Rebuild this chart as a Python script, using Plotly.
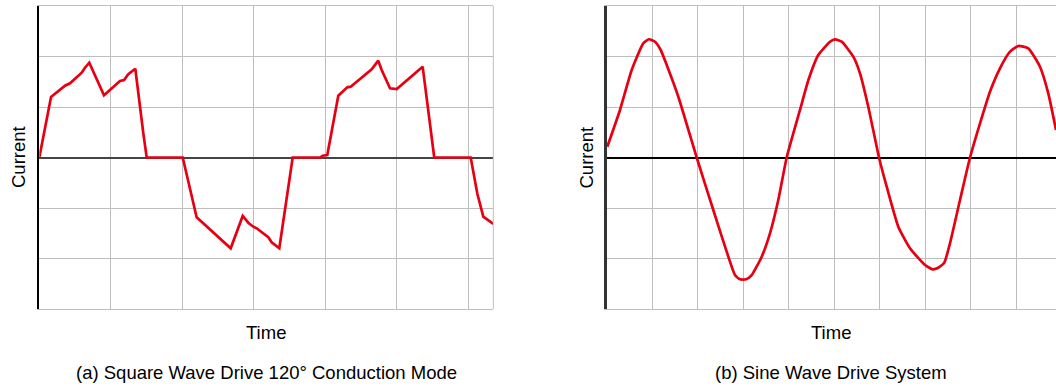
import plotly.graph_objects as go
from plotly.subplots import make_subplots

# ---- data (grid units: 1 unit = one grid cell) ----
square_t = [0.0, 0.164, 0.36, 0.43, 0.593, 0.639, 0.699, 0.905, 1.129, 1.185, 1.245, 1.343,
            1.455, 1.502, 2.006, 2.201, 2.677, 2.845, 2.923, 2.993, 3.04, 3.203, 3.25, 3.357,
            3.544, 3.926, 3.964, 4.028, 4.182, 4.308, 4.355, 4.649, 4.741, 4.789, 4.905, 4.999,
            5.362, 5.524, 6.034, 6.126, 6.21, 6.35]
square_i = [0.0, 1.198, 1.422, 1.469, 1.679, 1.778, 1.877, 1.232, 1.515, 1.535, 1.648, 1.758,
            0.479, 0.0, 0.0, -1.184, -1.798, -1.158, -1.291, -1.37, -1.402, -1.58, -1.679, -1.798,
            0.0, 0.0, 0.036, 0.05, 1.224, 1.39, 1.402, 1.747, 1.917, 1.733, 1.37, 1.356,
            1.798, 0.0, 0.0, -0.713, -1.172, -1.317]

sine_t = [0.013, 0.292, 0.549, 0.804, 0.93, 1.062, 1.187, 1.319, 1.574, 1.978, 2.343, 2.637,
          2.82, 2.93, 3.062, 3.187, 3.407, 3.589, 3.771, 3.956, 4.248, 4.433, 4.651, 4.908,
          5.018, 5.165, 5.42, 5.567, 5.749, 5.985, 6.154, 6.409, 6.666, 6.996, 7.165, 7.288,
          7.42, 7.545, 7.765, 7.985, 8.205, 8.424, 8.644, 8.864, 9.046, 9.266, 9.523, 9.705, 9.875]
sine_i = [0.214, 0.941, 1.733, 2.261, 2.341, 2.293, 2.129, 1.832, 1.204, 0.0, -1.04, -1.865,
          -2.327, -2.412, -2.412, -2.327, -1.964, -1.501, -0.842, 0.0, 0.941, 1.535, 2.03, 2.293,
          2.341, 2.293, 1.996, 1.667, 1.006, 0.0, -0.578, -1.37, -1.798, -2.129, -2.214, -2.182,
          -2.083, -1.699, -0.842, 0.0, 0.677, 1.303, 1.766, 2.095, 2.208, 2.162, 1.798, 1.271, 0.545]

x_label = "Time"
y_label = "Current"
captions = ["(a) Square Wave Drive 120° Conduction Mode", "(b) Sine Wave Drive System"]

RED = "#e60012"
GRID = "#bebebe"
FONT = "Liberation Sans, Arial, sans-serif"
FS = 18.5

fig = make_subplots(rows=1, cols=2)
fig.add_trace(go.Scatter(x=square_t, y=square_i, mode="lines",
                         line=dict(color=RED, width=2.7), showlegend=False), row=1, col=1)
fig.add_trace(go.Scatter(x=sine_t, y=sine_i, mode="lines",
                         line=dict(color=RED, width=2.7, shape="spline", smoothing=0.5),
                         showlegend=False), row=1, col=2)

ydom = [1 - 309 / 388, 1 - 6 / 388]
xdom1 = [39.3 / 1056, 493.3 / 1056]
xdom2 = [606.7 / 1056, 1.0]

common_x = dict(showticklabels=False, ticks="", dtick=1, tick0=0, showgrid=True,
                gridcolor=GRID, gridwidth=1, zeroline=False, showline=True,
                linecolor=GRID, linewidth=1, mirror=True)
common_y = dict(showticklabels=False, ticks="", dtick=1, tick0=0, range=[-3, 3],
                showgrid=True, gridcolor=GRID, gridwidth=1, zeroline=True,
                showline=True, domain=ydom)

fig.update_layout(
    width=1056, height=388, margin=dict(l=0, r=0, t=0, b=0),
    paper_bgcolor="white", plot_bgcolor="white",
    xaxis=dict(common_x, range=[0, 6.35], domain=xdom1),
    xaxis2=dict(common_x, range=[0, 9.875], domain=xdom2),
    yaxis=dict(common_y, zerolinecolor="#444444", zerolinewidth=2,
               linecolor="#000000", linewidth=2),
    yaxis2=dict(common_y, zerolinecolor="#000000", zerolinewidth=1.5,
                linecolor="#333333", linewidth=2.5),
)

# right border of left panel
fig.add_shape(type="line", xref="x domain", yref="y domain", x0=1, x1=1, y0=0, y1=1,
              line=dict(color=GRID, width=1))

annots = []
for dom, cap, ylx in [(xdom1, captions[0], 18.5), (xdom2, captions[1], 586)]:
    cx = (dom[0] + dom[1]) / 2
    annots.append(dict(text=x_label, x=cx, y=1 - 332 / 388, xref="paper", yref="paper",
                       xanchor="center", yanchor="middle", showarrow=False,
                       font=dict(family=FONT, size=FS, color="#000")))
    annots.append(dict(text=cap, x=cx, y=1 - 372 / 388, xref="paper", yref="paper",
                       xanchor="center", yanchor="middle", showarrow=False,
                       font=dict(family=FONT, size=FS, color="#000")))
    annots.append(dict(text=y_label, x=ylx / 1056, y=1 - 157.5 / 388, xref="paper", yref="paper",
                       xanchor="center", yanchor="middle", textangle=-90, showarrow=False,
                       font=dict(family=FONT, size=FS, color="#000")))
fig.update_layout(annotations=annots)

fig.write_html("out.html")
